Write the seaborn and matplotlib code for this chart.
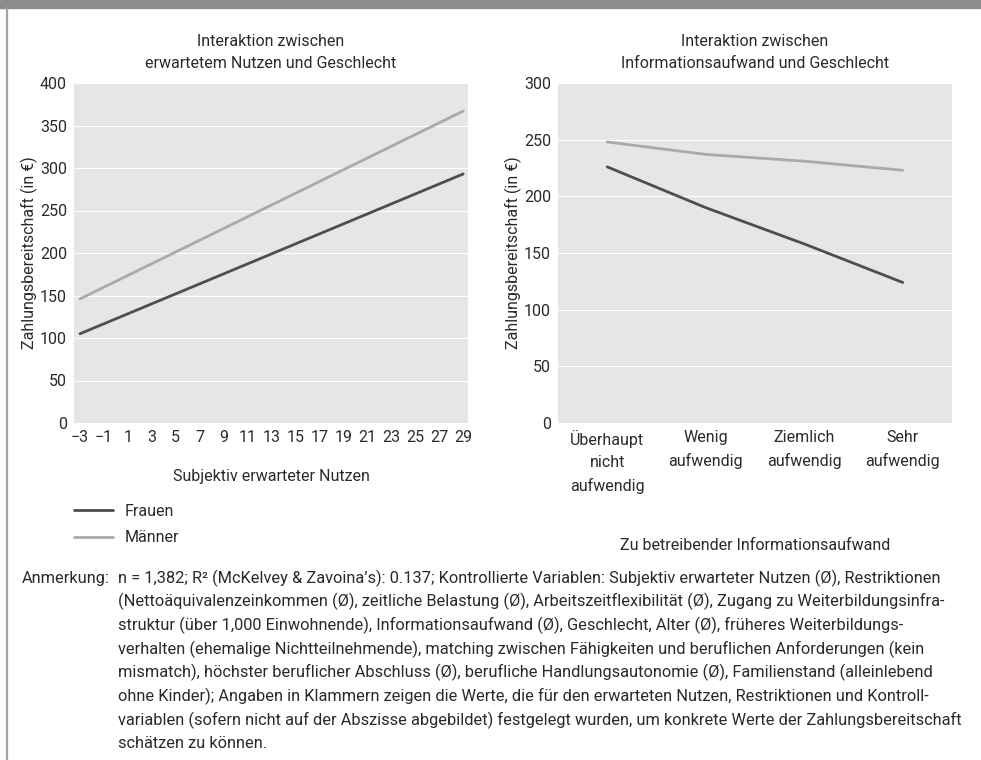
import matplotlib
matplotlib.use('agg')
import matplotlib.pyplot as plt
import pandas as pd
import seaborn as sns

# data
nutzen_x = [-3, 29]
nutzen_frauen = [105, 293]
nutzen_maenner = [146, 367]
nutzen_ticks = list(range(-3, 30, 2))

aufwand_cats = ['Überhaupt\nnicht\naufwendig', 'Wenig\naufwendig', 'Ziemlich\naufwendig', 'Sehr\naufwendig']
aufwand_frauen = [226, 190, 158, 124]
aufwand_maenner = [248, 237, 231, 223]

groups = ['Frauen', 'Männer']
colors = {'Frauen': '#4e4e50', 'Männer': '#a9aaac'}

titles = ['Interaktion zwischen\nerwartetem Nutzen und Geschlecht',
          'Interaktion zwischen\nInformationsaufwand und Geschlecht']
ylab = 'Zahlungsbereitschaft (in €)'
xlabs = ['Subjektiv erwarteter Nutzen', 'Zu betreibender Informationsaufwand']

note_head = 'Anmerkung:'
note_lines = [
    'n = 1,382; R² (McKelvey & Zavoina’s): 0.137; Kontrollierte Variablen: Subjektiv erwarteter Nutzen (Ø), Restriktionen',
    '(Nettoäquivalenzeinkommen (Ø), zeitliche Belastung (Ø), Arbeitszeitflexibilität (Ø), Zugang zu Weiterbildungsinfra-',
    'struktur (über 1,000 Einwohnende), Informationsaufwand (Ø), Geschlecht, Alter (Ø), früheres Weiterbildungs-',
    'verhalten (ehemalige Nichtteilnehmende), matching zwischen Fähigkeiten und beruflichen Anforderungen (kein',
    'mismatch), höchster beruflicher Abschluss (Ø), berufliche Handlungsautonomie (Ø), Familienstand (alleinlebend',
    'ohne Kinder); Angaben in Klammern zeigen die Werte, die für den erwarteten Nutzen, Restriktionen und Kontroll-',
    'variablen (sofern nicht auf der Abszisse abgebildet) festgelegt wurden, um konkrete Werte der Zahlungsbereitschaft',
    'schätzen zu können.',
]

df1 = pd.DataFrame({'x': nutzen_x * 2,
                    'y': nutzen_frauen + nutzen_maenner,
                    'g': [groups[0]] * 2 + [groups[1]] * 2})
df2 = pd.DataFrame({'x': aufwand_cats * 2,
                    'y': aufwand_frauen + aufwand_maenner,
                    'g': [groups[0]] * 4 + [groups[1]] * 4})

sns.set_style('darkgrid', {'axes.facecolor': '#e6e6e8', 'grid.color': 'white'})
plt.rcParams['font.family'] = ['Roboto', 'DejaVu Sans']
plt.rcParams['axes.unicode_minus'] = True
txt = '#2a2a2a'
fs = 11.5

fig = plt.figure(figsize=(9.81, 7.6), dpi=100)
ax1 = fig.add_axes([74 / 981, 1 - 423 / 760, 394 / 981, 340 / 760])
ax2 = fig.add_axes([558 / 981, 1 - 423 / 760, 394 / 981, 340 / 760])

sns.lineplot(data=df1, x='x', y='y', hue='g', palette=colors, linewidth=2, ax=ax1)
sns.lineplot(data=df2, x='x', y='y', hue='g', palette=colors, linewidth=2, ax=ax2, legend=False)

handles, labels = ax1.get_legend_handles_labels()
ax1.get_legend().remove()

ax1.set_xlim(-3.5, 29.4)
ax1.set_ylim(0, 400)
ax1.set_xticks(nutzen_ticks)
ax1.set_yticks(range(0, 401, 50))
ax1.grid(axis='x', visible=False)

ax2.set_xlim(-0.5, 3.5)
ax2.set_ylim(0, 300)
ax2.set_yticks(range(0, 301, 50))
ax2.grid(axis='x', visible=False)
for lab in ax2.get_xticklabels():
    lab.set_linespacing(1.6)

for ax, t, xl, lp in [(ax1, titles[0], xlabs[0], 17), (ax2, titles[1], xlabs[1], 32)]:
    ax.set_title(t, fontsize=fs, color=txt, pad=11, linespacing=1.6)
    ax.set_xlabel(xl, fontsize=fs, color=txt, labelpad=lp)
    ax.set_ylabel(ylab, fontsize=fs, color=txt)
    ax.yaxis.set_label_coords(-0.092, 0.5)
    ax.tick_params(length=0, labelsize=fs, labelcolor=txt, pad=5)
    for s in ax.spines.values():
        s.set_visible(False)

# header bar and left border
fig.patches.append(plt.Rectangle((0, 1 - 8 / 760), 1, 8 / 760, transform=fig.transFigure,
                                 color='#8b8c8e', zorder=0))
fig.lines.append(plt.Line2D([7 / 981, 7 / 981], [0, 1 - 8 / 760], transform=fig.transFigure,
                            color='#a3a3a5', linewidth=1.6))

fig.legend(handles, labels, loc='upper left', bbox_to_anchor=(74 / 981, 1 - 504 / 760),
           frameon=False, fontsize=fs, handlelength=2.45, handletextpad=0.7,
           labelspacing=0.72, labelcolor=txt, borderpad=0, borderaxespad=0)

# note block, font size fitted so the widest line ends near x=960
r = fig.canvas.get_renderer()
w = 0
for line in note_lines:
    probe = fig.text(0, 0, line, fontsize=10)
    w = max(w, probe.get_window_extent(r).width)
    probe.remove()
nfs = min(13, 10 * 840 / w)
y0 = 578
for i, line in enumerate(note_lines):
    fig.text(118 / 981, 1 - (y0 + i * 23.7) / 760, line, fontsize=nfs, color=txt, va='center')
fig.text(22 / 981, 1 - y0 / 760, note_head, fontsize=nfs, color=txt, va='center')

fig.savefig('out.png', dpi=100)
